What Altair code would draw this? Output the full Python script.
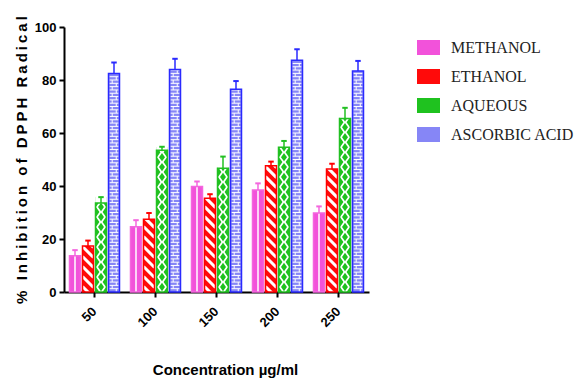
import altair as alt
import pandas as pd

# ---------------- data ----------------
concentrations = ["50", "100", "150", "200", "250"]
series_names = ["METHANOL", "ETHANOL", "AQUEOUS", "ASCORBIC ACID"]

methanol = [13.7, 24.6, 39.8, 38.5, 29.8]
methanol_sd = [2.1, 2.5, 1.9, 2.5, 2.5]
ethanol = [17.4, 27.5, 35.4, 47.6, 46.4]
ethanol_sd = [2.0, 2.3, 1.5, 1.6, 2.0]
aqueous = [33.6, 53.5, 46.7, 54.6, 65.5]
aqueous_sd = [2.2, 1.3, 4.4, 2.4, 4.0]
ascorbic = [82.5, 84.0, 76.5, 87.5, 83.4]
ascorbic_sd = [4.1, 4.0, 3.1, 4.1, 3.8]

y_ticks = [0, 20, 40, 60, 80, 100]

# ---------------- style ----------------
fill_colors = ["#f252da", "#ff0a0a", "#1fc21f", "#8686f6"]
edge_colors = ["#f466de", "#ff0000", "#22c022", "#2a2aff"]
GREEN = "#1fc21f"


def spaced(s, sep="\u2009"):
    return sep.join(list(s))


rows = []
vals = [methanol, ethanol, aqueous, ascorbic]
sds = [methanol_sd, ethanol_sd, aqueous_sd, ascorbic_sd]
for i, c in enumerate(concentrations):
    for name, v, s in zip(series_names, vals, sds):
        rows.append({"conc": c, "series": name, "value": v[i], "sd": s[i]})
df = pd.DataFrame(rows)

base = alt.Chart(df)

x_scale = alt.Scale(domain=concentrations, paddingInner=0, paddingOuter=0)
xo_scale = alt.Scale(domain=series_names, paddingInner=0.154, paddingOuter=0.423)
y_scale = alt.Scale(domain=[0, 100], nice=False)

x_axis = alt.Axis(
    labelAngle=315, labelAlign="right", labelBaseline="middle",
    labelFont="Liberation Sans", labelFontWeight="bold", labelFontSize=13,
    labelColor="black", labelPadding=12,
    domainColor="black", domainWidth=2, tickColor="black", tickWidth=2, tickSize=5,
    title="Concentration µg/ml", titleFont="Liberation Sans", titleFontWeight="bold",
    titleFontSize=15, titleColor="black", titleX=161, titleY=82,
    titleAlign="center", titleBaseline="alphabetic", grid=False,
)
y_axis = alt.Axis(
    values=y_ticks, labelFont="Liberation Sans", labelFontWeight="bold",
    labelFontSize=13, labelColor="black", labelPadding=3,
    domainColor="black", domainWidth=2, tickColor="black", tickWidth=2, tickSize=5,
    title=spaced("% Inhibition of DPPH Radical"), titleFont="Liberation Sans",
    titleFontWeight="bold", titleFontSize=15, titleColor="black",
    titleAngle=270, titleX=-38, titleY=132.5, titleAlign="center",
    titleBaseline="alphabetic", grid=False,
)

X = alt.X("conc:N", sort=concentrations, scale=x_scale, axis=x_axis)
XO = alt.XOffset("series:N", sort=series_names, scale=xo_scale)


def Y(field):
    return alt.Y(field, scale=y_scale, axis=y_axis)


legend = alt.Legend(
    title=None, orient="none", legendX=353, legendY=9, padding=0,
    symbolType="M-1,-0.65L1,-0.65L1,0.65L-1,0.65Z", symbolSize=529,
    symbolStrokeWidth=0, symbolOpacity=1,
    labelFont="Liberation Serif", labelFontSize=16, labelColor="#222222",
    labelOffset=11, rowPadding=9,
)

# 1 base bars
bars = base.mark_bar().encode(
    x=X, xOffset=XO, y=Y("value:Q"),
    color=alt.Color("series:N", sort=series_names,
                    scale=alt.Scale(domain=series_names, range=fill_colors),
                    legend=legend),
)

# 2 methanol: white vertical line
meth_line = base.transform_filter(alt.datum.series == "METHANOL").transform_calculate(
    zero="0"
).mark_rule(color="white", strokeWidth=1.5).encode(
    x=X, xOffset=XO, y=Y("value:Q"), y2="zero:Q"
)

# 3 aqueous: white body with green pattern
aq_body = base.transform_filter(alt.datum.series == "AQUEOUS").mark_bar(
    color="white"
).encode(x=X, xOffset=XO, y=Y("value:Q"))

aq_seq = base.transform_filter(alt.datum.series == "AQUEOUS")
aq_tri = aq_seq.transform_calculate(
    seq="sequence(0, datum.value + 1.9, 3.77)"
).transform_flatten(["seq"]).mark_point(
    shape="M-1,-1L-0.3,0L-1,1ZM1,-1L0.3,0L1,1Z", size=110, filled=True,
    color=GREEN, opacity=1, strokeWidth=0, clip=True,
).encode(x=X, xOffset=XO, y=Y("seq:Q"))
aq_dia = aq_seq.transform_calculate(
    seq="sequence(1.885, datum.value + 1.9, 3.77)"
).transform_flatten(["seq"]).mark_point(
    shape="M0,-1L0.7,0L0,1L-0.7,0Z", size=72, filled=True,
    color=GREEN, opacity=1, strokeWidth=0, clip=True,
).encode(x=X, xOffset=XO, y=Y("seq:Q"))

# 5 ethanol diagonal white stripes
eth_str = base.transform_filter(alt.datum.series == "ETHANOL").transform_calculate(
    seq="sequence(0, datum.value + 2.1, 3.77)"
).transform_flatten(["seq"]).mark_point(
    shape="M-1,-1L1,1", size=121, filled=False, color="white",
    strokeWidth=3, opacity=1, clip=True,
).encode(x=X, xOffset=XO, y=Y("seq:Q"))

# 6 ascorbic bricks
asc_rows = base.transform_filter(alt.datum.series == "ASCORBIC ACID").transform_calculate(
    seq="sequence(1.25, datum.value, 1.25)"
).transform_flatten(["seq"]).transform_calculate(
    par="floor(datum.seq / 1.25 + 0.5) % 2"
).mark_point(filled=False, color="white", strokeWidth=1, opacity=1, size=81).encode(
    x=X, xOffset=XO, y=Y("seq:Q"),
    shape=alt.Shape("par:N", scale=alt.Scale(
        domain=[0, 1], range=["M-1,0L1,0M-0.4,0L-0.4,0.73", "M-1,0L1,0M0.5,0L0.5,0.73"]),
        legend=None),
)

# 7 white cover above bars (hides pattern overflow)
cover = base.transform_calculate(
    top2="datum.value + 4.6"
).mark_bar(color="white").encode(
    x=X, xOffset=XO, y=Y("value:Q"), y2="top2:Q"
)

stroke_scale = alt.Scale(domain=series_names, range=edge_colors)

# 8 outlines
outline = base.mark_bar(fillOpacity=0, strokeWidth=1.5).encode(
    x=X, xOffset=XO, y=Y("value:Q"),
    stroke=alt.Stroke("series:N", scale=stroke_scale, legend=None),
)

# 9 error bars (upper only) + caps
err = base.transform_calculate(top="datum.value + datum.sd").mark_rule(strokeWidth=1.5).encode(
    x=X, xOffset=XO, y=Y("value:Q"), y2="top:Q",
    stroke=alt.Stroke("series:N", scale=stroke_scale, legend=None),
)
caps = base.transform_calculate(top="datum.value + datum.sd").mark_point(
    shape="M-1,0L1,0", size=30, filled=False, strokeWidth=2, opacity=1
).encode(
    x=X, xOffset=XO, y=Y("top:Q"),
    stroke=alt.Stroke("series:N", scale=stroke_scale, legend=None),
)

chart = alt.layer(
    bars, meth_line, aq_body, aq_tri, aq_dia, eth_str, asc_rows, cover, outline, err, caps
).properties(
    width=305, height=265,
    autosize=alt.AutoSizeParams(type="none"),
    padding={"left": 64, "top": 27, "right": 208, "bottom": 86},
    background="white",
).configure_view(stroke=None)

chart.save("out.html", embed_options={"renderer": "svg", "actions": False})
